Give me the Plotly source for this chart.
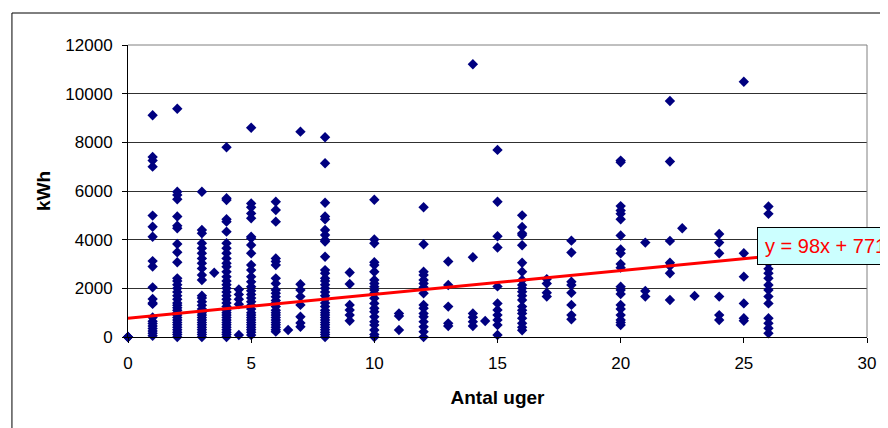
import plotly.graph_objects as go

# ---- data (weeks -> kWh values) ----
kwh_w0 = [0, 0, 0]
kwh_w1 = [9110, 7400, 7250, 7000, 4990, 4530, 4120, 3120, 2900, 2040, 1560, 1400, 1360,
          800, 650, 550, 450, 350, 250, 150, 50]
kwh_w2 = [9380, 5970, 5840, 5660, 4950, 4570, 4470, 3820, 3480, 3070, 2410, 2300, 2150,
          2000, 1850, 1700, 1550, 1400, 1300, 1200, 1100, 1000, 900, 800, 700, 600, 500,
          400, 300, 200, 100, 0]
kwh_w3 = [5970, 4400, 4260, 3850, 3650, 3440, 3230, 3030, 2820, 2550, 2340, 1700, 1600,
          1450, 1300, 1150, 1000, 900, 800, 700, 600, 500, 400, 300, 200, 100, 0]
kwh_w3_5 = [2640]
kwh_w4 = [7800, 5700, 5630, 4840, 4740, 4330, 3850, 3650, 3440, 3230, 3030, 2890, 2680,
          2480, 2300, 2150, 2000, 1850, 1700, 1550, 1400, 1250, 1100, 1000, 900, 800,
          700, 600, 500, 400, 300, 200, 100, 0]
kwh_w4_5 = [1950, 1750, 1550, 1350, 80]
kwh_w5 = [8600, 5490, 5330, 5080, 4880, 4120, 4060, 3780, 3440, 2960, 2750, 2480, 2270,
          2070, 1900, 1750, 1600, 1450, 1300, 1150, 1000, 900, 800, 700, 600, 500, 400,
          300, 200, 80]
kwh_w6 = [5560, 5220, 4740, 3230, 3100, 2960, 2410, 2200, 1930, 1800, 1650, 1500, 1400,
          1250, 1100, 1000, 900, 800, 700, 600, 500, 400, 300, 220]
kwh_w6_5 = [290]
kwh_w7 = [8440, 2170, 1930, 1660, 1320, 830, 580, 420]
kwh_w8 = [8210, 7140, 5520, 4950, 4840, 4400, 4190, 3990, 3920, 3300, 2750, 2620, 2410,
          2300, 2150, 2000, 1850, 1700, 1550, 1400, 1250, 1100, 1000, 900, 800, 700,
          600, 500, 400, 300, 200, 100, 0]
kwh_w9 = [2650, 2180, 1320, 1110, 900, 670]
kwh_w10 = [5640, 4010, 3850, 3070, 2960, 2680, 2340, 2200, 2070, 1930, 1800, 1590, 1380,
           1180, 1040, 830, 630, 490, 290, 100, 0]
kwh_w11 = [970, 860, 290]
kwh_w12 = [5330, 3810, 2680, 2550, 2340, 2200, 2040, 1800, 1320, 1180, 970, 830, 630,
           420, 220, 0]
kwh_w13 = [3100, 2140, 1250, 560, 450]
kwh_w14 = [11210, 3280, 970, 810, 630, 450]
kwh_w14_5 = [660]
kwh_w15 = [7690, 5560, 4140, 3680, 2080, 1380, 1110, 900, 700, 490, 80]
kwh_w16 = [5000, 4520, 4260, 4190, 3770, 3050, 2680, 2340, 2140, 2000, 1860, 1700, 1520,
           1250, 1100, 970, 770, 560, 400, 280]
kwh_w17 = [2380, 2200, 1820, 1660]
kwh_w18 = [3960, 3470, 2270, 2140, 1820, 1320, 900, 730]
kwh_w20 = [7250, 7180, 5380, 5200, 5060, 4840, 4170, 3600, 3440, 3000, 2850, 2070, 1930,
           1770, 1320, 1150, 900, 700, 600, 490]
kwh_w21 = [3880, 1890, 1660]
kwh_w22 = [9700, 7210, 3950, 3050, 2920, 2620, 1520]
kwh_w22_5 = [4470]
kwh_w23 = [1690]
kwh_w24 = [4230, 3880, 3440, 1660, 900, 700]
kwh_w25 = [10490, 3440, 2480, 1380, 770, 670]
kwh_w26 = [5360, 5060, 4200, 3600, 3200, 3030, 2800, 2620, 2410, 2140, 1930, 1660, 1380,
           770, 560, 360, 150]

columns = [
    (0, kwh_w0), (1, kwh_w1), (2, kwh_w2), (3, kwh_w3), (3.5, kwh_w3_5), (4, kwh_w4),
    (4.5, kwh_w4_5), (5, kwh_w5), (6, kwh_w6), (6.5, kwh_w6_5), (7, kwh_w7), (8, kwh_w8),
    (9, kwh_w9), (10, kwh_w10), (11, kwh_w11), (12, kwh_w12), (13, kwh_w13), (14, kwh_w14),
    (14.5, kwh_w14_5), (15, kwh_w15), (16, kwh_w16), (17, kwh_w17), (18, kwh_w18),
    (20, kwh_w20), (21, kwh_w21), (22, kwh_w22), (22.5, kwh_w22_5), (23, kwh_w23),
    (24, kwh_w24), (25, kwh_w25), (26, kwh_w26),
]

# trendline as printed in the chart: y = 98x + 771
trend_slope = 98
trend_intercept = 771
trend_x = [0, 26]

x_ticks = [0, 5, 10, 15, 20, 25, 30]
y_ticks = [0, 2000, 4000, 6000, 8000, 10000, 12000]

xs, ys = [], []
for wk, vals in columns:
    xs.extend([wk] * len(vals))
    ys.extend(vals)

trend_y = [trend_slope * v + trend_intercept for v in trend_x]

FONT = "Liberation Sans, Arial, sans-serif"

# page body has an 8px margin, so the figure is 880x420 placed at (8,8)
W, H = 880, 420
ML, MT, MR, MB = 120, 37, 15, 91
PW = W - ML - MR   # 745
PH = H - MT - MB   # 292

fig = go.Figure()
fig.add_trace(go.Scatter(
    x=xs, y=ys, mode="markers",
    marker=dict(symbol="diamond", size=8, color="#000080", line=dict(width=0)),
    cliponaxis=False, showlegend=False, hoverinfo="x+y",
))
fig.add_trace(go.Scatter(
    x=trend_x, y=trend_y, mode="lines",
    line=dict(color="#FF0000", width=3),
    cliponaxis=False, showlegend=False, hoverinfo="skip",
))

fig.update_layout(
    width=W, height=H,
    margin=dict(l=ML, r=MR, t=MT, b=MB),
    paper_bgcolor="white", plot_bgcolor="white",
    font=dict(family=FONT, size=17, color="black"),
    xaxis=dict(
        range=[0, 30], tickvals=x_ticks, ticktext=[str(v) for v in x_ticks],
        showgrid=False, zeroline=False,
        showline=True, linecolor="black", linewidth=1,
        ticks="outside", ticklen=5, tickcolor="black", tickwidth=1,
        ticklabelstandoff=6,
        tickfont=dict(family=FONT, size=17, color="black"),
        title=dict(text="<b>Antal uger</b>", font=dict(family=FONT, size=19, color="black"),
                   standoff=18),
    ),
    yaxis=dict(
        range=[0, 12000], tickvals=y_ticks, ticktext=[str(v) for v in y_ticks],
        showgrid=True, gridcolor="#303030", gridwidth=1, zeroline=False,
        showline=True, linecolor="black", linewidth=1,
        ticks="outside", ticklen=5, tickcolor="black", tickwidth=1,
        ticklabelstandoff=6,
        tickfont=dict(family=FONT, size=17, color="black"),
        title=dict(text="<b>kWh</b>", font=dict(family=FONT, size=19, color="black"),
                   standoff=9),
    ),
    shapes=[
        # right and top edges of plot area (grey)
        dict(type="line", xref="paper", yref="paper", x0=1, x1=1, y0=0, y1=1,
             line=dict(color="#808080", width=1)),
        dict(type="line", xref="paper", yref="paper", x0=0, x1=1, y0=1, y1=1,
             line=dict(color="#808080", width=1)),
        # outer chart frame (black)
        dict(type="rect", xref="paper", yref="paper",
             x0=(3 - ML) / PW, x1=(W + 20 - ML) / PW,
             y0=-(H + 20 - MT - PH) / PH, y1=(MT + PH - 5) / PH,
             line=dict(color="black", width=1), fillcolor="rgba(0,0,0,0)", layer="below"),
    ],
    annotations=[
        dict(text="y = 98x + 771", xref="paper", yref="paper",
             x=(754 - ML) / PW, y=(MT + PH - 237.5) / PH,
             xanchor="left", yanchor="middle", showarrow=False,
             font=dict(family=FONT, size=20, color="#FF0000"),
             bgcolor="#CCFFFF", bordercolor="black", borderwidth=1, borderpad=7),
    ],
)

fig.write_html("out.html")
